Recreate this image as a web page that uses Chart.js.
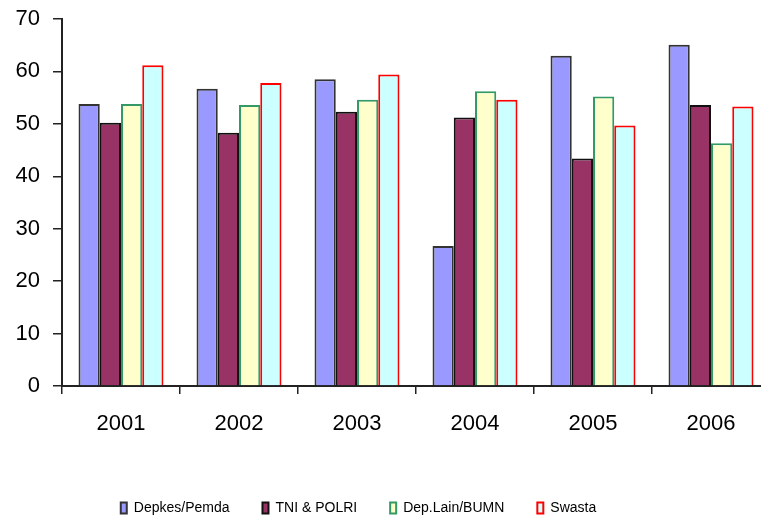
<!DOCTYPE html>
<html>
<head>
<meta charset="utf-8">
<script src="https://cdn.jsdelivr.net/npm/chart.js@4.4.0/dist/chart.umd.min.js"></script>
<style>
  html, body { margin: 0; padding: 0; overflow: hidden; background: #fff; }
  #wrap { position: absolute; left: -53px; top: 0; width: 823px; height: 518px; }
</style>
</head>
<body>
<div id="wrap"><canvas id="grafico"></canvas></div>
<script>
const tahun = ['2001', '2002', '2003', '2004', '2005', '2006'];
const depkes = [53.8, 56.7, 58.5, 26.7, 63.0, 65.1];
const tni = [50.2, 48.3, 52.3, 51.2, 43.4, 53.6];
const depLain = [53.8, 53.6, 54.6, 56.2, 55.2, 46.3];
const swasta = [61.2, 57.8, 59.4, 54.6, 49.7, 53.3];
const yMin = 0, yMax = 70, yStep = 10;

const fuente = 'Arial, "Liberation Sans", sans-serif';

const ctx = document.getElementById('grafico').getContext('2d');
new Chart(ctx, {
  type: 'bar',
  data: {
    labels: tahun,
    datasets: [
      { label: 'Depkes/Pemda', data: depkes, backgroundColor: '#9999FF', borderColor: '#333333', borderWidth: 2 },
      { label: 'TNI & POLRI', data: tni, backgroundColor: '#993366', borderColor: '#111111', borderWidth: 2 },
      { label: 'Dep.Lain/BUMN', data: depLain, backgroundColor: '#FFFFCC', borderColor: '#339966', borderWidth: 2 },
      { label: 'Swasta', data: swasta, backgroundColor: '#CCFFFF', borderColor: '#FF0000', borderWidth: 2 }
    ]
  },
  options: {
    responsive: true,
    maintainAspectRatio: false,
    animation: false,
    categoryPercentage: 0.72,
    barPercentage: 1,
    layout: { padding: { top: 19, right: 0, left: 0, bottom: 0 } },
    plugins: {
      tooltip: { enabled: false },
      legend: {
        position: 'bottom',
        maxHeight: 50,
        labels: {
          boxWidth: 6,
          boxHeight: 11,
          padding: 33,
          color: '#000',
          font: { family: fuente, size: 14 }
        }
      }
    },
    scales: {
      x: {
        afterFit: s => { s.height = 82; },
        border: { display: true, color: '#222', width: 2 },
        grid: { drawOnChartArea: false, drawTicks: true, tickLength: 8, color: '#222', lineWidth: 1.5 },
        ticks: { color: '#000', padding: 17, font: { family: fuente, size: 22 } }
      },
      y: {
        min: yMin,
        max: yMax,
        afterFit: s => { s.width = 115; s.paddingTop = 0; s.paddingBottom = 0; },
        border: { display: true, color: '#222', width: 2 },
        grid: { drawOnChartArea: false, drawTicks: true, tickLength: 9, color: '#222', lineWidth: 1.5 },
        ticks: { stepSize: yStep, color: '#000', padding: 13, font: { family: fuente, size: 22 } }
      }
    }
  }
});
</script>
</body>
</html>
